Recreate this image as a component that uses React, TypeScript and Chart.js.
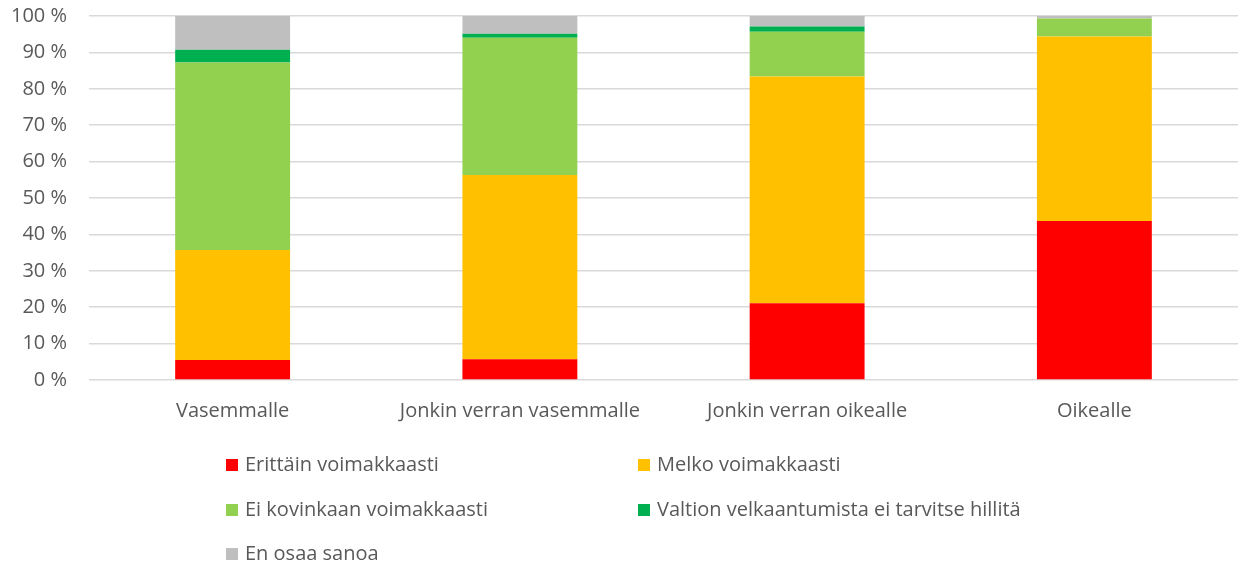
import React, { useEffect, useRef } from "react";
import { Chart, registerables } from "chart.js";

Chart.register(...registerables);

const categories = ["Vasemmalle", "Jonkin verran vasemmalle", "Jonkin verran oikealle", "Oikealle"];
const seriesNames = [
  "Erittäin voimakkaasti",
  "Melko voimakkaasti",
  "Ei kovinkaan voimakkaasti",
  "Valtion velkaantumista ei tarvitse hillitä",
  "En osaa sanoa",
];
const erittain = [5.5, 5.7, 21.1, 43.7];
const melko = [30.2, 50.6, 62.3, 50.7];
const eiKovinkaan = [51.5, 37.7, 12.3, 4.9];
const eiTarvitse = [3.5, 1.1, 1.4, 0.0];
const enOsaa = [9.3, 4.9, 2.9, 0.7];
const colors = ["#FF0000", "#FFC000", "#92D050", "#00B050", "#BFBFBF"];
const yTicks = [0, 10, 20, 30, 40, 50, 60, 70, 80, 90, 100];

const FONT = "'Open Sans', sans-serif";
const TEXT = "#595959";
const SIZE = 20;

const legendPlugin = {
  id: "gridLegend",
  afterDraw(chart: any) {
    const ctx = chart.ctx;
    const cols = [226, 638];
    const rows = [465, 510, 554];
    ctx.save();
    ctx.font = `${SIZE}px ${FONT}`;
    ctx.textBaseline = "middle";
    ctx.textAlign = "left";
    chart.data.datasets.forEach((ds: any, i: number) => {
      const x = cols[i % 2];
      const y = rows[Math.floor(i / 2)];
      ctx.fillStyle = ds.backgroundColor;
      ctx.fillRect(x, y - 6, 12, 12);
      ctx.fillStyle = TEXT;
      ctx.fillText(ds.label, x + 19, y);
    });
    ctx.restore();
  },
};

export default function App() {
  const ref = useRef<HTMLCanvasElement | null>(null);
  useEffect(() => {
    document.body.style.margin = "0";
    const values = [erittain, melko, eiKovinkaan, eiTarvitse, enOsaa];
    const chart = new Chart(ref.current as HTMLCanvasElement, {
      type: "bar",
      data: {
        labels: categories,
        datasets: values.map((v, i) => ({
          label: seriesNames[i],
          data: v,
          backgroundColor: colors[i],
          borderWidth: 0,
          categoryPercentage: 1,
          barPercentage: 0.4,
        })),
      },
      options: {
        responsive: false,
        animation: false,
        layout: { padding: { top: 16, left: 0, right: 0, bottom: 0 } },
        plugins: { legend: { display: false }, tooltip: { enabled: false } },
        scales: {
          x: {
            stacked: true,
            grid: { display: false, drawTicks: false },
            border: { display: false },
            ticks: { color: TEXT, font: { family: FONT, size: SIZE }, padding: 19, maxRotation: 0 },
            afterFit: (s: any) => { s.height = 188; s.paddingLeft = 0; s.paddingRight = 0; },
          },
          y: {
            stacked: true,
            min: 0,
            max: 100,
            afterBuildTicks: (s: any) => { s.ticks = yTicks.map((v) => ({ value: v })); },
            grid: { color: "#D9D9D9", lineWidth: 1.5, drawTicks: false },
            border: { display: false },
            ticks: {
              color: TEXT,
              font: { family: FONT, size: SIZE },
              padding: 22,
              callback: (v: any) => `${v} %`,
            },
            afterFit: (s: any) => { s.width = 89; s.paddingTop = 0; s.paddingBottom = 0; },
          },
        },
      },
      plugins: [legendPlugin],
    });
    return () => chart.destroy();
  }, []);
  return <canvas ref={ref} width={1238} height={568} style={{ display: "block" }} />;
}
